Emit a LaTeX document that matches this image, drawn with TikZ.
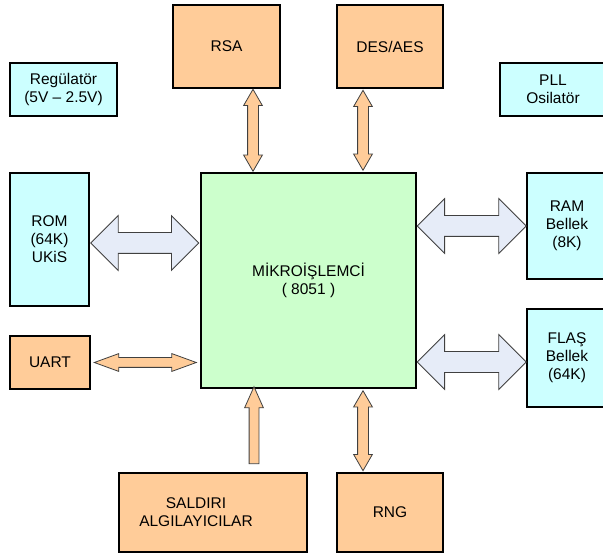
\documentclass[tikz,border=0pt]{standalone}
\usepackage{fontspec}
\setmainfont{Liberation Sans}
\usetikzlibrary{shapes.arrows}
\definecolor{peach}{RGB}{255,204,153}
\definecolor{aqua}{RGB}{204,255,255}
\definecolor{mint}{RGB}{204,255,204}
\definecolor{lilac}{RGB}{230,236,248}
\tikzset{
  blok/.style={draw, line width=1.2pt, align=center, inner sep=0pt, font=\fontsize{15.5}{18}\selectfont},
  turuncu/.style={blok, fill=peach},
  mavi/.style={blok, fill=aqua},
  yesil/.style={blok, fill=mint, line width=2pt},
  okbase/.style={draw=black!75, line width=0.8pt, inner xsep=0pt, midway, sloped, allow upside down},
  ince/.style={okbase, double arrow, fill=peach, inner ysep=5pt, double arrow head extend=4pt, double arrow tip angle=60},
  yatay/.style={okbase, double arrow, fill=peach, inner ysep=4.5pt, double arrow head extend=4pt, double arrow tip angle=40},
  kalin/.style={okbase, double arrow, fill=lilac, inner ysep=10pt, double arrow head extend=17pt, double arrow tip angle=90},
  tekok/.style={okbase, single arrow, fill=peach, inner ysep=4.5pt, single arrow head extend=4.5pt, single arrow tip angle=48}
}
\begin{document}
\begin{tikzpicture}[x=1pt, y=-1pt]
  \useasboundingbox (0,0) rectangle (603,556);
  % bloklar
  \node[turuncu, minimum width=107pt, minimum height=83pt] (rsa) at (226.5,46.5) {RSA};
  \node[turuncu, minimum width=106pt, minimum height=83pt] (des) at (390,46.5) {DES/AES};
  \node[mavi, minimum width=107pt, minimum height=53pt] (reg) at (63.5,89.5) {Regülatör\\(5V – 2.5V)};
  \node[mavi, minimum width=106pt, minimum height=53pt] (pll) at (553,89.5) {PLL\\Osilatör};
  \node[mavi, minimum width=79pt, minimum height=133pt] (rom) at (49.5,239.5) {ROM\\(64K)\\UKiS};
  \node[turuncu, minimum width=80pt, minimum height=53pt] (uart) at (50,362.5) {UART};
  \node[yesil, minimum width=215pt, minimum height=215pt] (mcu) at (308.5,280.5) {MİKROİŞLEMCİ\\( 8051 )};
  \node[mavi, minimum width=80pt, minimum height=106pt] (ram) at (567,226) {RAM\\Bellek\\(8K)};
  \node[mavi, minimum width=80pt, minimum height=98pt] (flas) at (567,358) {FLAŞ\\Bellek\\(64K)};
  \node[turuncu, minimum width=188pt, minimum height=79pt,
        label={[align=center, xshift=-17pt, font=\fontsize{15.5}{18}\selectfont]center:SALDIRI\\ALGILAYICILAR}] (sal) at (213,512.5) {};
  \node[turuncu, minimum width=106pt, minimum height=79pt] (rng) at (390,512.5) {RNG};
  % oklar
  \coordinate (p1) at ([xshift=26.5pt]rsa.south);
  \coordinate (p2) at ([xshift=-27pt]des.south);
  \coordinate (p3) at ([yshift=-3.5pt]rom.east);
  \coordinate (p4) at (uart.east);
  \coordinate (p5) at (ram.west);
  \coordinate (p6) at ([yshift=-4pt]flas.west);
  \coordinate (p7) at ([xshift=41pt]sal.north);
  \coordinate (p8) at ([xshift=-27pt]rng.north);
  \path (p1) -- (p1 |- mcu.north) node[ince, minimum height=82pt] (ok1) {};
  \path (p2) -- (p2 |- mcu.north) node[ince, minimum height=80pt] (ok2) {};
  \path (p3) -- (p3 -| mcu.west) node[kalin, minimum height=108pt] (ok3) {};
  \path (p4) -- (p4 -| mcu.west) node[yatay, minimum height=102pt] (ok4) {};
  \path (p5 -| mcu.east) -- (p5) node[kalin, minimum height=109pt] (ok5) {};
  \path (p6 -| mcu.east) -- (p6) node[kalin, minimum height=109pt] (ok6) {};
  \path (p7) -- (p7 |- mcu.south) node[tekok, minimum height=77pt] (ok7) {};
  \path (p8 |- mcu.south) -- (p8) node[ince, minimum height=80pt] (ok8) {};
\end{tikzpicture}
\end{document}
